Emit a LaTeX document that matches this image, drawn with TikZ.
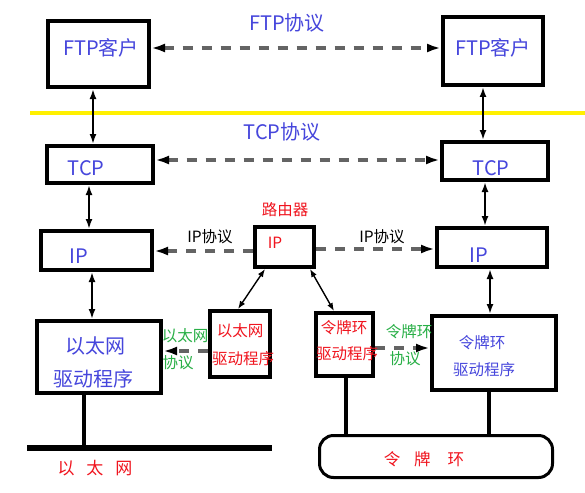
\documentclass[tikz,border=0pt]{standalone}
\usepackage{fontspec}
\setmainfont{Noto Sans CJK SC}
\usetikzlibrary{arrows.meta}
\definecolor{bt}{RGB}{70,70,220}
\definecolor{rt}{RGB}{240,20,30}
\definecolor{gt}{RGB}{40,175,70}
\definecolor{dg}{RGB}{100,100,100}
\definecolor{yl}{RGB}{255,240,0}
\tikzset{
  box/.style={draw, line width=4pt, inner sep=0pt},
  big/.style={font=\fontsize{20}{24}\selectfont, text=bt, inner sep=0pt},
  small/.style={font=\fontsize{15.5}{18}\selectfont, inner sep=0pt},
  dar/.style={draw=dg, line width=3.5pt, dash pattern=on 10pt off 9pt},
  tipb/.tip={Latex[length=14pt,width=9pt,black]},
  var/.style={draw=black, line width=2.2pt, {Latex[length=10pt,width=7pt]}-{Latex[length=10pt,width=7pt]}},
  diag/.style={draw=black, line width=1.4pt, {Latex[length=8pt,width=6pt]}-{Latex[length=8pt,width=6pt]}},
  wire/.style={draw=black, line width=4pt}
}
\begin{document}
\begin{tikzpicture}[x=1pt,y=-1pt]
\useasboundingbox (0,0) rectangle (585,492);
\fill[white] (0,0) rectangle (585,492);

% boxes
\node[box, minimum width=101pt, minimum height=66pt] (ftpL) at (98.5,54) {};
\node[box, minimum width=100pt, minimum height=68pt] (ftpR) at (493,51) {};
\node[box, minimum width=106pt, minimum height=37pt] (tcpL) at (100,164.5) {};
\node[box, minimum width=106pt, minimum height=38pt] (tcpR) at (495,161) {};
\node[box, minimum width=111pt, minimum height=39pt] (ipL) at (96.5,250.5) {};
\node[box, minimum width=59pt, minimum height=40pt] (ipM) at (284.5,247) {};
\node[box, minimum width=110pt, minimum height=39pt] (ipR) at (492,247.5) {};
\node[box, minimum width=124pt, minimum height=72pt] (ethL) at (99,357) {};
\node[box, minimum width=60pt, minimum height=66pt] (ethM) at (240,344) {};
\node[box, minimum width=57pt, minimum height=63pt] (tokM) at (344.5,344.5) {};
\node[box, minimum width=124pt, minimum height=74pt] (tokR) at (494,353) {};
\node[draw, line width=3pt, rounded corners=14pt, inner sep=0pt, minimum width=233pt, minimum height=42pt] (ring) at (436,456.5) {};

% yellow separator
\coordinate (yA) at (30,113);
\coordinate (yB) at (585,113);
\draw[yl, line width=3.5pt] (yA) -- (yB);

% helper coordinates
\coordinate (x1) at (93,0);
\coordinate (x2) at (483,0);
\coordinate (x3) at (89,0);
\coordinate (x4) at (485,0);
\coordinate (x5) at (92,0);
\coordinate (x6) at (490,0);
\coordinate (h1) at (0,48);
\coordinate (h2) at (0,160);
\coordinate (h3) at (0,251);
\coordinate (h4) at (0,249);
\coordinate (h5) at (0,351);
\coordinate (h6) at (0,348);

% vertical arrows
\draw[var] (ftpL.south -| x1) -- (tcpL.north -| x1);
\draw[var] (ftpR.south -| x2) -- (tcpR.north -| x2);
\draw[var] (tcpL.south -| x3) -- (ipL.north -| x3);
\draw[var] (tcpR.south -| x4) -- (ipR.north -| x4);
\draw[var] (ipL.south -| x5) -- (ethL.north -| x5);
\draw[var] (ipR.south -| x6) -- (tokR.north -| x6);

% dashed protocol arrows
\draw[dar, tipb-tipb] (ftpL.east |- h1) -- (ftpR.west |- h1);
\draw[dar, tipb-tipb] (tcpL.east |- h2) -- (tcpR.west |- h2);
\draw[dar, -tipb] (ipM.west |- h3) -- (ipL.east |- h3);
\draw[dar, -tipb] (ipM.east |- h4) -- (ipR.west |- h4);
\draw[dar, -tipb] (ethM.west |- h5) -- (ethL.east |- h5);
\draw[dar, -tipb] (tokM.east |- h6) -- (tokR.west |- h6);

% router to drivers
\draw[diag] ([xshift=-19.5pt]ipM.south) -- ([xshift=-2pt]ethM.north);
\draw[diag] ([xshift=25.5pt]ipM.south) -- ([xshift=-10.5pt]tokM.north);

% ethernet wire
\coordinate (eA) at (27,448);
\coordinate (eB) at (272,448);
\coordinate (eX) at (84,0);
\draw[wire] (ethL.south -| eX) -- (eA -| eX);
\draw[black, line width=6pt] (eA) -- (eB);

% token ring wires
\coordinate (t1) at (346,0);
\coordinate (t2) at (489,0);
\draw[wire] (tokM.south -| t1) -- (ring.north -| t1);
\draw[wire] (tokR.south -| t2) -- (ring.north -| t2);

% texts
\node[big] (tFtp) at (287,23) {FTP协议};
\node[big] (tTcp) at (282,132) {TCP协议};
\node[big] (tFtpL) at (101,48) {FTP客户};
\node[big] (tFtpR) at (493,48) {FTP客户};
\node[big] (tTcpL) at (86,168) {TCP};
\node[big] (tTcpR) at (491,168) {TCP};
\node[big] (tIpL) at (79,256) {IP};
\node[big] (tIpR) at (479,255) {IP};
\node[small, text=rt] (tIpM) at (275,243) {IP};
\node[small, text=rt] (tRouter) at (285,210) {路由器};
\node[small, text=black] (tIpP1) at (210,237) {IP协议};
\node[small, text=black] (tIpP2) at (382,237) {IP协议};
\node[big] (tEthL1) at (95,346) {以太网};
\node[big] (tEthL2) at (93,379) {驱动程序};
\node[small, text=gt] (gEth1) at (185,336) {以太网};
\node[small, text=gt] (gEth2) at (178,363) {协议};
\node[small, text=rt] (tEthM1) at (240,331) {以太网};
\node[small, text=rt] (tEthM2) at (243,359) {驱动程序};
\node[small, text=rt] (tTokM1) at (344,328) {令牌环};
\node[small, text=rt] (tTokM2) at (347,354) {驱动程序};
\node[small, text=gt] (gTok1) at (409,332) {令牌环};
\node[small, text=gt] (gTok2) at (405,359) {协议};
\node[small, text=bt] (tTokR1) at (482,343) {令牌环};
\node[small, text=bt] (tTokR2) at (484,370) {驱动程序};
\node[small, text=rt, font=\fontsize{17}{20}\selectfont] (tEther) at (95,468) {以\hspace{12pt}太\hspace{12pt}网};
\node[small, text=rt, font=\fontsize{16.5}{20}\selectfont] (tRing) at (424,459) {令\hspace{14pt}牌\hspace{17pt}环};
\end{tikzpicture}
\end{document}
